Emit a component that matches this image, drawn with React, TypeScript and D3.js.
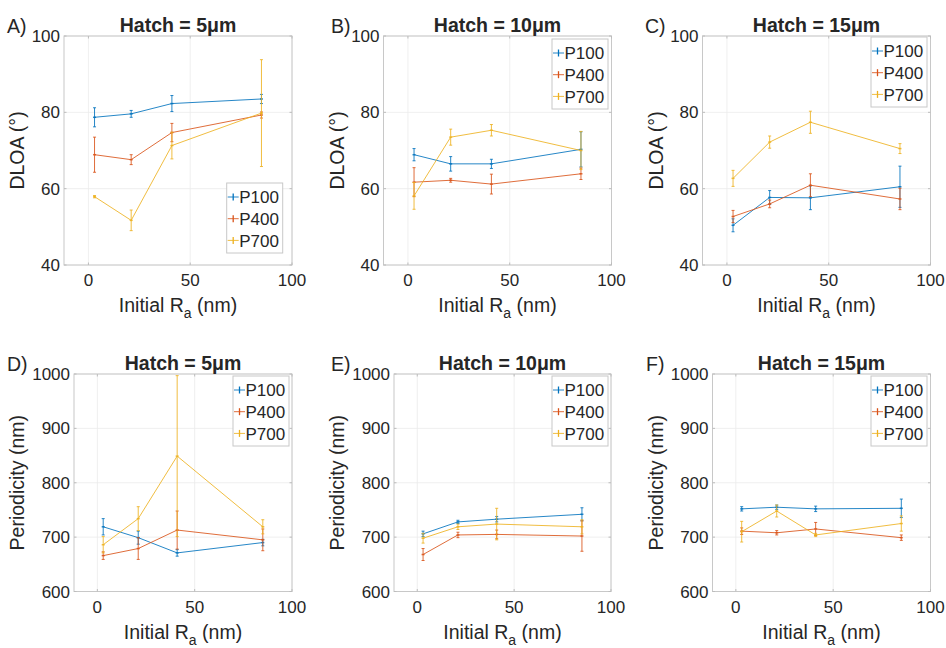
import React from 'react';
import * as d3 from 'd3';

// Initial surface roughness (nm) of the four substrates
const raValues = [3, 21, 41, 85];
const seriesNames = ['P100', 'P400', 'P700'];
const seriesColors = ['#0072BD', '#D95319', '#EDB120'];

// DLOA (deg), mean and error per series (P100, P400, P700)
const dloaH5Mean = [[78.7, 79.6, 82.3, 83.5], [68.9, 67.6, 74.7, 79.3], [57.9, 51.7, 71.3, 79.8]];
const dloaH5Err = [[2.5, 0.9, 2.1, 1.2], [4.6, 1.3, 2.4, 0.8], [0.3, 2.7, 3.5, 14]];
const dloaH10Mean = [[68.9, 66.5, 66.5, 70.3], [61.7, 62.2, 61.2, 63.9], [58.1, 73.5, 75.3, 70.0]];
const dloaH10Err = [[1.6, 1.9, 1.2, 4.6], [3.8, 0.5, 2.6, 1.5], [3.5, 2.1, 1.5, 5.0]];
const dloaH15Mean = [[50.4, 57.7, 57.6, 60.5], [52.7, 56.0, 60.9, 57.3], [62.7, 72.2, 77.4, 70.5]];
const dloaH15Err = [[1.7, 1.8, 3.1, 5.4], [1.6, 1.0, 3.0, 2.8], [2.1, 1.6, 2.9, 1.3]];

// Periodicity (nm), mean and error per series
const perH5Mean = [[719, 699, 671, 690], [666, 679, 713, 695], [686, 734, 849, 719]];
const perH5Err = [[15, 12, 6, 6], [7, 20, 35, 20], [15, 22, 148, 13]];
const perH10Mean = [[706, 728, 733, 742], [668, 704, 705, 702], [698, 719, 724, 719]];
const perH10Err = [[5, 3, 5, 12], [11, 5, 8, 28], [9, 5, 29, 13]];
const perH15Mean = [[752, 755, 752, 753], [711, 708, 715, 699], [710, 748, 704, 725]];
const perH15Err = [[4, 4, 5, 17], [6, 4, 12, 5], [19, 11, 3, 14]];

const xTicks = [0, 50, 100];
const dloaTicks = [40, 60, 80, 100];
const perTicks = [600, 700, 800, 900, 1000];

const FONT = '"Liberation Sans", Arial, Helvetica, sans-serif';
const TEXT = '#262626';

type PanelProps = {
  letter: string;
  letterX: number;
  title: string;
  yLabel: string;
  yDomain: [number, number];
  yTicks: number[];
  means: number[][];
  errs: number[][];
  left: number;
  right: number;
  top: number;
  bottom: number;
  yLabelOffset: number;
  legendX: number;
  legendY: number;
};

function Panel(p: PanelProps) {
  const x = d3.scaleLinear().domain([-12, 100]).range([p.left, p.right]);
  const y = d3.scaleLinear().domain(p.yDomain).range([p.bottom, p.top]);
  const line = d3
    .line<[number, number]>()
    .x((d) => x(d[0]))
    .y((d) => y(d[1]));
  const cx = (p.left + p.right) / 2;
  const cy = (p.top + p.bottom) / 2;
  const legW = 56;
  const legH = 70;
  const rowH = 21.7;

  return (
    <g fontFamily={FONT} fill={TEXT}>
      <rect x={p.left} y={p.top} width={p.right - p.left} height={p.bottom - p.top} fill="#fff" />
      {/* grid */}
      {xTicks.map((t) => (
        <line key={'gx' + t} x1={x(t)} x2={x(t)} y1={p.top} y2={p.bottom} stroke="#ebebeb" strokeWidth={0.8} />
      ))}
      {p.yTicks.map((t) => (
        <line key={'gy' + t} x1={p.left} x2={p.right} y1={y(t)} y2={y(t)} stroke="#ebebeb" strokeWidth={0.8} />
      ))}
      {/* box */}
      <rect x={p.left} y={p.top} width={p.right - p.left} height={p.bottom - p.top} fill="none" stroke="#c8c8c8" strokeWidth={1} />
      {/* ticks */}
      {xTicks.map((t) => (
        <g key={'tx' + t}>
          <line x1={x(t)} x2={x(t)} y1={p.bottom} y2={p.bottom - 2.5} stroke="#bdbdbd" />
          <line x1={x(t)} x2={x(t)} y1={p.top} y2={p.top + 2.5} stroke="#bdbdbd" />
          <text x={x(t)} y={p.bottom + 21} textAnchor="middle" fontSize={17}>
            {t}
          </text>
        </g>
      ))}
      {p.yTicks.map((t) => (
        <g key={'ty' + t}>
          <line x1={p.left} x2={p.left + 2.5} y1={y(t)} y2={y(t)} stroke="#bdbdbd" />
          <line x1={p.right} x2={p.right - 2.5} y1={y(t)} y2={y(t)} stroke="#bdbdbd" />
          <text x={p.left - 4} y={y(t) + 6} textAnchor="end" fontSize={17}>
            {t}
          </text>
        </g>
      ))}
      {/* series */}
      {p.means.map((m, si) => {
        const pts = raValues.map((r, i) => [r, m[i]] as [number, number]);
        const col = seriesColors[si];
        return (
          <g key={'s' + si} stroke={col} strokeOpacity={0.85} fill="none">
            <path d={line(pts) || ''} strokeWidth={1} />
            {raValues.map((r, i) => {
              const e = p.errs[si][i];
              const px = x(r);
              const y1 = y(m[i] - e);
              const y2 = y(m[i] + e);
              return (
                <g key={'e' + i} strokeWidth={1}>
                  <line x1={px} x2={px} y1={y1} y2={y2} />
                  <line x1={px - 1.5} x2={px + 1.5} y1={y1} y2={y1} />
                  <line x1={px - 1.5} x2={px + 1.5} y1={y2} y2={y2} />
                  <line x1={px - 1.5} x2={px + 1.5} y1={y(m[i])} y2={y(m[i])} strokeWidth={1.5} />
                </g>
              );
            })}
          </g>
        );
      })}
      {/* legend */}
      <g>
        <rect x={p.legendX} y={p.legendY} width={legW} height={legH} fill="#fff" stroke="#c8c8c8" strokeWidth={1} />
        {seriesNames.map((n, i) => {
          const ly = p.legendY + 14 + i * rowH;
          return (
            <g key={n}>
              <line x1={p.legendX + 1} x2={p.legendX + 12} y1={ly} y2={ly} stroke={seriesColors[i]} strokeOpacity={0.85} />
              <line x1={p.legendX + 6.5} x2={p.legendX + 6.5} y1={ly - 3.5} y2={ly + 3.5} stroke={seriesColors[i]} strokeWidth={1.3} />
              <text x={p.legendX + 12.5} y={ly + 6.2} fontSize={17}>
                {n}
              </text>
            </g>
          );
        })}
      </g>
      {/* title, panel letter and axis labels */}
      <text x={cx} y={p.top - 4} textAnchor="middle" fontSize={19.5} fontWeight="bold">
        {p.title}
      </text>
      <text x={p.letterX} y={p.top - 3} fontSize={19.5}>
        {p.letter}
      </text>
      <text
        transform={`translate(${p.left - p.yLabelOffset},${cy}) rotate(-90)`}
        textAnchor="middle"
        fontSize={19.5}
      >
        {p.yLabel}
      </text>
      <text x={cx} y={p.bottom + 47} textAnchor="middle" fontSize={19.5}>
        Initial R
        <tspan fontSize={14} dy={6}>
          a
        </tspan>
        <tspan dy={-6}> (nm)</tspan>
      </text>
    </g>
  );
}

export default function App() {
  const topRow = { top: 36, bottom: 265, yDomain: [40, 100] as [number, number], yTicks: dloaTicks, yLabel: 'DLOA (°)', yLabelOffset: 40 };
  const botRow = { top: 374, bottom: 591.5, yDomain: [600, 1000] as [number, number], yTicks: perTicks, yLabel: 'Periodicity (nm)', yLabelOffset: 50 };
  return (
    <svg
      width={946}
      height={648}
      viewBox="0 0 946 648"
      style={{ position: 'absolute', left: 0, top: 0, background: '#fff' }}
    >
      <rect width={946} height={648} fill="#fff" />
      <Panel {...topRow} letter="A)" letterX={7} title="Hatch = 5μm" means={dloaH5Mean} errs={dloaH5Err} left={64} right={292} legendX={226.7} legendY={183} />
      <Panel {...topRow} letter="B)" letterX={331} title="Hatch = 10μm" means={dloaH10Mean} errs={dloaH10Err} left={383.5} right={611.5} legendX={552} legendY={39} />
      <Panel {...topRow} letter="C)" letterX={645} title="Hatch = 15μm" means={dloaH15Mean} errs={dloaH15Err} left={702.5} right={930.5} legendX={871} legendY={37} />
      <Panel {...botRow} letter="D)" letterX={7} title="Hatch = 5μm" means={perH5Mean} errs={perH5Err} left={74} right={292} legendX={233} legendY={376} />
      <Panel {...botRow} letter="E)" letterX={331} title="Hatch = 10μm" means={perH10Mean} errs={perH10Err} left={394} right={611} legendX={552} legendY={376} />
      <Panel {...botRow} letter="F)" letterX={646} title="Hatch = 15μm" means={perH15Mean} errs={perH15Err} left={712.5} right={930.5} legendX={871} legendY={376} />
    </svg>
  );
}
